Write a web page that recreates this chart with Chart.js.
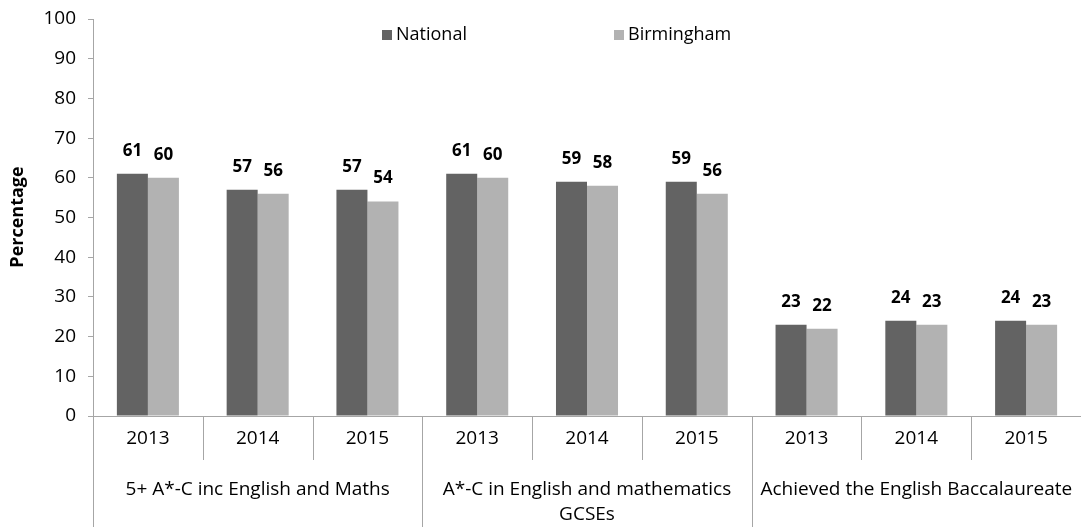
<!DOCTYPE html>
<html>
<head>
<meta charset="utf-8">
<script src="https://cdn.jsdelivr.net/npm/chart.js@4/dist/chart.umd.min.js"></script>
<style>
  html, body { margin: 0; padding: 0; background: #fff; }
  #wrap { width: 1081px; height: 527px; }
</style>
</head>
<body>
<div id="wrap"><canvas id="grafico"></canvas></div>
<script>
const years = ['2013', '2014', '2015', '2013', '2014', '2015', '2013', '2014', '2015'];
const groups = [
  ['5+ A*-C inc English and Maths'],
  ['A*-C in English and mathematics', 'GCSEs'],
  ['Achieved the English Baccalaureate']
];
const national = [61, 57, 57, 61, 59, 59, 23, 24, 24];
const birmingham = [60, 56, 54, 60, 58, 56, 22, 23, 23];
const seriesNames = ['National', 'Birmingham'];
const colores = ['#636363', '#b2b2b2'];

const FONT = '"Open Sans", Lato, sans-serif';
const LINE = '#a6a6a6';

// etiquetas de valor encima de las barras
const etiquetas = {
  id: 'etiquetas',
  afterDatasetsDraw(chart) {
    const ctx = chart.ctx;
    ctx.save();
    ctx.font = 'bold 17px ' + FONT;
    ctx.fillStyle = '#000';
    ctx.textAlign = 'center';
    ctx.textBaseline = 'middle';
    chart.data.datasets.forEach((ds, i) => {
      chart.getDatasetMeta(i).data.forEach((bar, j) => {
        ctx.fillText(ds.data[j], bar.x, bar.y - 23);
      });
    });
    ctx.restore();
  }
};

// eje x de dos niveles, leyenda y titulo del eje y
const ejeX = {
  id: 'ejeX',
  afterDraw(chart) {
    const ctx = chart.ctx;
    const x = chart.scales.x;
    const area = chart.chartArea;
    const paso = x.getPixelForValue(1) - x.getPixelForValue(0);
    ctx.save();
    ctx.strokeStyle = LINE;
    ctx.lineWidth = 1;
    // linea base
    ctx.beginPath();
    ctx.moveTo(area.left, area.bottom + 0.5);
    ctx.lineTo(area.right, area.bottom + 0.5);
    ctx.stroke();
    // separadores
    for (let i = 0; i <= years.length; i++) {
      const px = Math.round(area.left + i * paso) + 0.5;
      const largo = (i % 3 === 0) ? 527 : area.bottom + 44;
      ctx.beginPath();
      ctx.moveTo(px, area.bottom);
      ctx.lineTo(px, largo);
      ctx.stroke();
    }
    ctx.fillStyle = '#000';
    ctx.font = '19px ' + FONT;
    ctx.textAlign = 'center';
    ctx.textBaseline = 'middle';
    years.forEach((y, i) => {
      ctx.fillText(y, x.getPixelForValue(i), area.bottom + 23);
    });
    groups.forEach((g, k) => {
      const cx = (x.getPixelForValue(k * 3) + x.getPixelForValue(k * 3 + 2)) / 2;
      g.forEach((linea, n) => {
        ctx.fillText(linea, cx, area.bottom + 74 + n * 25);
      });
    });
    // leyenda
    const posLeyenda = [387, 619];
    ctx.font = '18px ' + FONT;
    seriesNames.forEach((nombre, i) => {
      ctx.fillStyle = colores[i];
      ctx.fillRect(posLeyenda[i] - 5, 30, 10, 10);
      ctx.fillStyle = '#000';
      ctx.textAlign = 'left';
      ctx.fillText(nombre, posLeyenda[i] + 9, 35);
    });
    // titulo eje y
    ctx.translate(18, 217);
    ctx.rotate(-Math.PI / 2);
    ctx.font = 'bold 18px ' + FONT;
    ctx.textAlign = 'center';
    ctx.fillText('Percentage', 0, 0);
    ctx.restore();
  }
};

const ctx = document.getElementById('grafico').getContext('2d');
const myChart = new Chart(ctx, {
  type: 'bar',
  data: {
    labels: years,
    datasets: [
      { label: seriesNames[0], data: national, backgroundColor: colores[0] },
      { label: seriesNames[1], data: birmingham, backgroundColor: colores[1] }
    ]
  },
  options: {
    responsive: true,
    maintainAspectRatio: false,
    animation: false,
    layout: { padding: { top: 19, bottom: 111, left: 0, right: 0 } },
    datasets: { bar: { categoryPercentage: 0.565, barPercentage: 1 } },
    plugins: { legend: { display: false }, tooltip: { enabled: false } },
    scales: {
      x: { display: false },
      y: {
        min: 0,
        max: 100,
        afterFit: s => { s.width = 93; s.paddingTop = 0; s.paddingBottom = 0; },
        ticks: { stepSize: 10, color: '#000', font: { size: 19, family: FONT }, padding: 12 },
        grid: { drawOnChartArea: false, drawTicks: true, tickLength: 5, color: LINE },
        border: { color: LINE }
      }
    }
  },
  plugins: [etiquetas, ejeX]
});
</script>
</body>
</html>
